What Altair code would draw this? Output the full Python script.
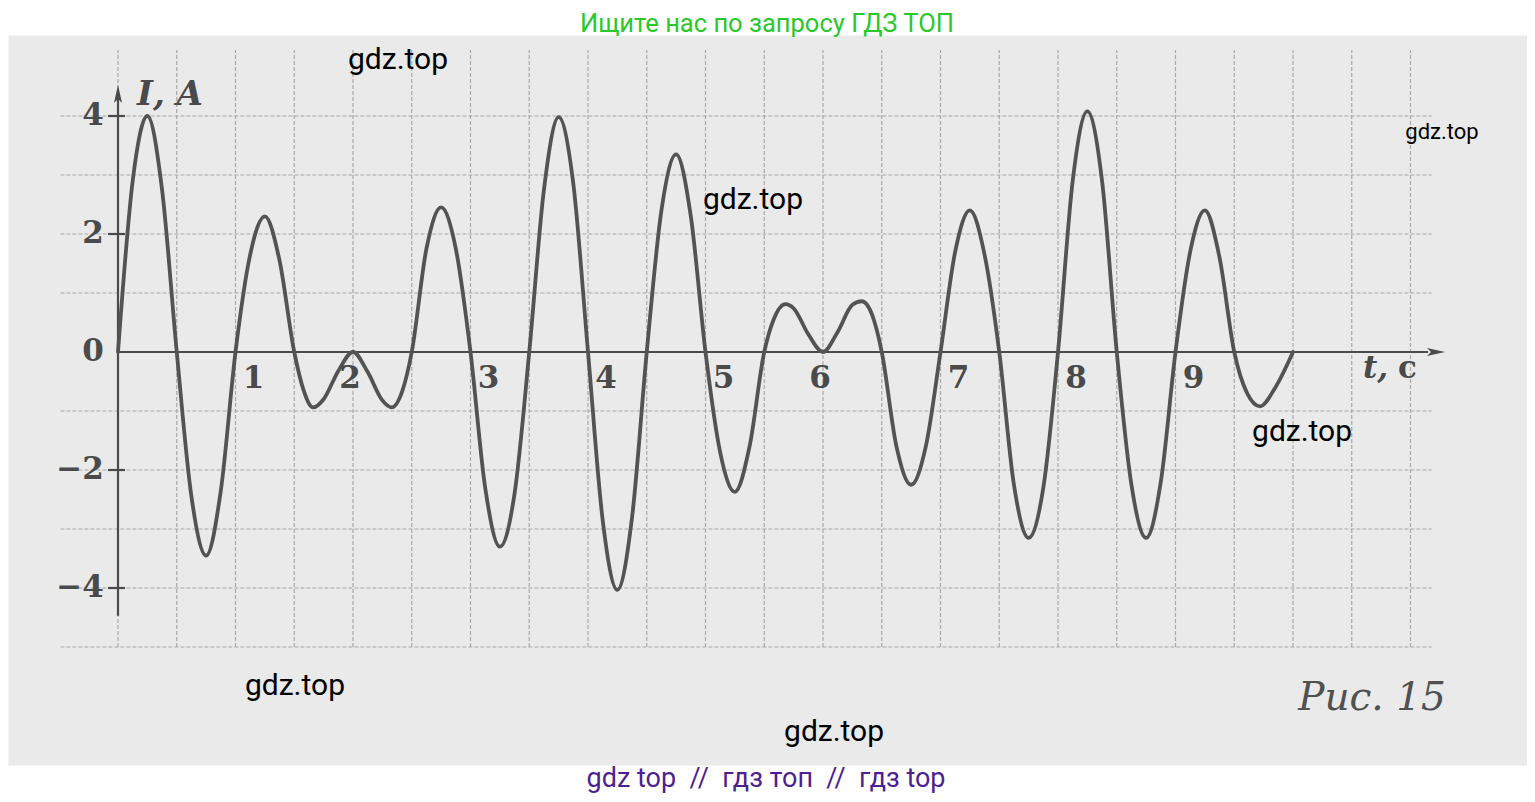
import altair as alt
import pandas as pd

# ---------------- data ----------------
t_s = [0, 0.125, 0.25, 0.375, 0.5, 0.625, 0.75, 0.875, 1.0, 1.125, 1.25, 1.375,
       1.5, 1.58, 1.66, 1.75, 1.875, 2.0, 2.125, 2.25, 2.33, 2.42, 2.5,
       2.625, 2.75, 2.875, 3.0, 3.125, 3.25, 3.375, 3.5, 3.625, 3.75, 3.875,
       4.0, 4.125, 4.25, 4.375, 4.5, 4.625, 4.75, 4.875, 5.0, 5.125, 5.25, 5.375,
       5.5, 5.58, 5.68, 5.75, 5.875, 6.0, 6.125, 6.25, 6.33, 6.42, 6.5,
       6.625, 6.75, 6.875, 7.0, 7.125, 7.25, 7.375, 7.5, 7.625, 7.75, 7.875,
       8.0, 8.125, 8.25, 8.375, 8.5, 8.625, 8.75, 8.875, 9.0, 9.125, 9.25, 9.375,
       9.5, 9.61, 9.72, 9.85, 10.0]
current_a = [0, 2.9, 4.0, 2.75, 0, -2.45, -3.45, -2.35, 0, 1.65, 2.3, 1.55,
             0, -0.65, -0.94, -0.8, -0.32, 0, -0.34, -0.82, -0.94, -0.66, 0,
             1.75, 2.45, 1.75, 0, -2.3, -3.3, -2.4, 0, 2.75, 3.98, 2.85,
             0, -2.85, -4.03, -2.8, 0, 2.4, 3.35, 2.3, 0, -1.7, -2.37, -1.6,
             0, 0.55, 0.81, 0.74, 0.3, 0, 0.34, 0.8, 0.86, 0.62, 0,
             -1.6, -2.25, -1.6, 0, 1.7, 2.4, 1.65, 0, -2.25, -3.15, -2.3,
             0, 2.9, 4.08, 2.9, 0, -2.25, -3.15, -2.2, 0, 1.7, 2.4, 1.6,
             0, -0.7, -0.92, -0.6, 0]

grid_t = [0.0, 0.5, 1.0, 1.5, 2.0, 2.5, 3.0, 3.5, 4.0, 4.5, 5.0, 5.5, 6.0,
          6.5, 7.0, 7.5, 8.0, 8.5, 9.0, 9.5, 10.0, 10.5, 11.0]
grid_i = [-5, -4, -3, -2, -1, 1, 2, 3, 4]
y_tick_vals = [-4, -2, 2, 4]
y_label_vals = [4, 2, 0, -2, -4]
y_label_txt = ["4", "2", "0", "\u22122", "\u22124"]
x_label_vals = [1, 3, 4, 5, 7, 8, 9]
x_label_mid_vals = [2, 6]

header_txt = "Ищите нас по запросу ГДЗ ТОП"
footer_txt = "gdz top\u00a0\u00a0//\u00a0\u00a0гдз топ\u00a0\u00a0//\u00a0\u00a0гдз top"
caption_txt = "Рис. 15"
wm_txt = "gdz.top"

# ---------------- layout (annotation placement, in data units) ----------------
W, H = 1519, 730
XS = alt.Scale(domain=[-0.93617, 11.99149], nice=False, zero=False)
YS = alt.Scale(domain=[-7.0, 5.37288], nice=False, zero=False)


def X(f):
    return alt.X(f, type="quantitative", scale=XS, axis=None)


def Y(f):
    return alt.Y(f, type="quantitative", scale=YS, axis=None)


INK = "#4a4a4a"
SERIF = "DejaVu Serif"

vgrid = alt.Chart(pd.DataFrame({"t": grid_t, "lo": -5.0, "hi": 5.12})).mark_rule(
    color="#a8a8a8", strokeWidth=1.2, strokeDash=[4, 2]
).encode(x=X("t"), y=Y("lo"), y2=alt.Y2("hi"))

hgrid = alt.Chart(pd.DataFrame({"i": grid_i, "lo": -0.49, "hi": 11.18})).mark_rule(
    color="#a8a8a8", strokeWidth=1.2, strokeDash=[4, 2]
).encode(y=Y("i"), x=X("lo"), x2=alt.X2("hi"))

xaxis = alt.Chart(pd.DataFrame({"a": [0.0], "b": [11.15], "i": [0.0]})).mark_rule(
    color=INK, strokeWidth=2.2
).encode(x=X("a"), x2=alt.X2("b"), y=Y("i"))

yaxis = alt.Chart(pd.DataFrame({"t": [0.0], "a": [-4.47], "b": [4.4]})).mark_rule(
    color=INK, strokeWidth=2.2
).encode(x=X("t"), y=Y("a"), y2=alt.Y2("b"))

arrow_up = alt.Chart(pd.DataFrame({"t": [0.0], "i": [4.373]})).mark_point(
    shape="M0,-1L0.45,1L0,0.55L-0.45,1Z", filled=True, size=324, color=INK,
    opacity=1, strokeWidth=0
).encode(x=X("t"), y=Y("i"))

arrow_right = alt.Chart(pd.DataFrame({"t": [11.217], "i": [0.0]})).mark_point(
    shape="M1,0L-1,-0.45L-0.55,0L-1,0.45Z", filled=True, size=324, color=INK,
    opacity=1, strokeWidth=0
).encode(x=X("t"), y=Y("i"))

yticks = alt.Chart(pd.DataFrame({"i": y_tick_vals, "a": -0.085, "b": 0.06})).mark_rule(
    color=INK, strokeWidth=2.2
).encode(y=Y("i"), x=X("a"), x2=alt.X2("b"))

curve = alt.Chart(pd.DataFrame({"t": t_s, "I": current_a})).mark_line(
    interpolate="monotone", strokeWidth=3.8, color="#535353", strokeCap="round"
).encode(x=X("t"), y=Y("I"))

ylabels = alt.Chart(pd.DataFrame({"t": -0.12, "i": y_label_vals, "txt": y_label_txt})).mark_text(
    align="right", baseline="middle", font=SERIF, fontWeight="bold", fontSize=31, color=INK
).encode(x=X("t"), y=Y("i"), text="txt:N")

xlabels = alt.Chart(pd.DataFrame({"t": x_label_vals, "i": -0.46,
                                  "txt": [str(v) for v in x_label_vals]})).mark_text(
    align="center", baseline="middle", font=SERIF, fontWeight="bold", fontSize=31,
    color=INK, dx=18
).encode(x=X("t"), y=Y("i"), text="txt:N")

xlabels_mid = alt.Chart(pd.DataFrame({"t": x_label_mid_vals, "i": -0.46,
                                      "txt": [str(v) for v in x_label_mid_vals]})).mark_text(
    align="center", baseline="middle", font=SERIF, fontWeight="bold", fontSize=31,
    color=INK, dx=-3
).encode(x=X("t"), y=Y("i"), text="txt:N")

ylab = alt.Chart(pd.DataFrame({"t": [0.162], "i": [4.186], "txt": ["I,\u00a0A"]})).mark_text(
    align="left", baseline="alphabetic", font=SERIF, fontStyle="italic", fontWeight="bold",
    fontSize=34, color=INK
).encode(x=X("t"), y=Y("i"), text="txt:N")

xlab_t = alt.Chart(pd.DataFrame({"t": [10.596], "i": [-0.44], "txt": ["t,"]})).mark_text(
    align="left", baseline="alphabetic", font=SERIF, fontStyle="italic", fontWeight="bold",
    fontSize=31, color=INK
).encode(x=X("t"), y=Y("i"), text="txt:N")

xlab_c = alt.Chart(pd.DataFrame({"t": [10.894], "i": [-0.44], "txt": ["c"]})).mark_text(
    align="left", baseline="alphabetic", font=SERIF, fontWeight="bold",
    fontSize=31, color=INK
).encode(x=X("t"), y=Y("i"), text="txt:N")

caption = alt.Chart(pd.DataFrame({"t": [10.672], "i": [-6.068], "txt": [caption_txt]})).mark_text(
    align="center", baseline="alphabetic", font=SERIF, fontStyle="italic",
    fontSize=39, color="#505050"
).encode(x=X("t"), y=Y("i"), text="txt:N")

wm = alt.Chart(pd.DataFrame({
    "t": [2.383, 5.404, 10.077, 1.506, 6.094],
    "i": [4.949, 2.576, -1.356, -5.661, -6.441],
    "txt": [wm_txt] * 5,
})).mark_text(
    align="center", baseline="middle", font="Roboto", fontSize=30, color="#000000"
).encode(x=X("t"), y=Y("i"), text="txt:N")

wm_small = alt.Chart(pd.DataFrame({"t": [11.268], "i": [3.729], "txt": [wm_txt]})).mark_text(
    align="center", baseline="middle", font="Roboto", fontSize=22, color="#000000"
).encode(x=X("t"), y=Y("i"), text="txt:N")

header = alt.Chart(pd.DataFrame({"t": [5.523], "i": [5.559], "txt": [header_txt]})).mark_text(
    align="center", baseline="middle", font="Roboto", fontSize=25.5, color="#2ac82a"
).encode(x=X("t"), y=Y("i"), text="txt:N")

footer = alt.Chart(pd.DataFrame({"t": [5.515], "i": [-7.237], "txt": [footer_txt]})).mark_text(
    align="center", baseline="middle", font="Roboto", fontSize=27, color="#4d1f91"
).encode(x=X("t"), y=Y("i"), text="txt:N")

chart = alt.layer(
    vgrid, hgrid, xaxis, yaxis, arrow_up, arrow_right, yticks, curve,
    ylabels, xlabels, xlabels_mid, ylab, xlab_t, xlab_c, caption,
    wm, wm_small, header, footer
).properties(
    width=W, height=H,
    padding={"left": 0, "right": 0, "top": 27, "bottom": 29},
    autosize=alt.AutoSizeParams(type="none"),
    background="#ffffff",
).configure_view(fill="#eaeaea", stroke="transparent")

chart.save("out.html", embed_options={"renderer": "svg", "actions": False})
